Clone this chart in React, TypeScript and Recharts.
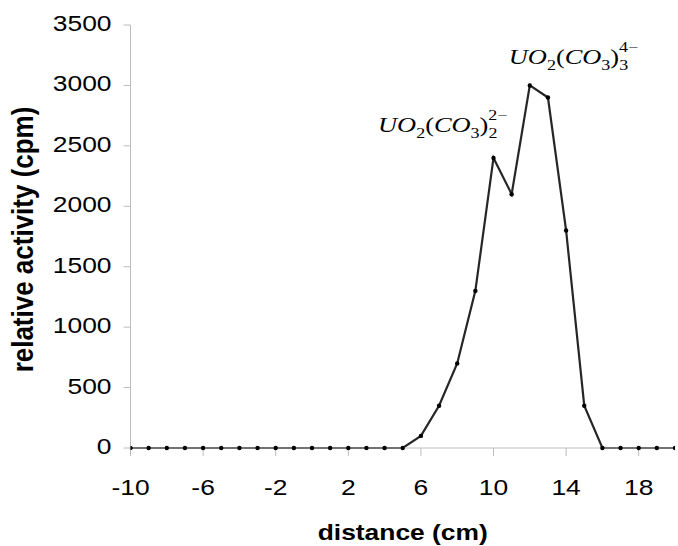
import { LineChart, Line, XAxis, YAxis, LabelList } from "recharts";

// distance along the strip (cm) and measured activity (cpm)
const distance = [
  -10, -9, -8, -7, -6, -5, -4, -3, -2, -1, 0, 1, 2, 3, 4, 5, 6, 7, 8, 9, 10,
  11, 12, 13, 14, 15, 16, 17, 18, 19, 20,
];
const activity = [
  0, 0, 0, 0, 0, 0, 0, 0, 0, 0, 0, 0, 0, 0, 0, 0, 100, 350, 700, 1300, 2400,
  2100, 3000, 2900, 1800, 350, 0, 0, 0, 0, 0,
];

const xTicks = [-10, -6, -2, 2, 6, 10, 14, 18];
const yTicks = [0, 500, 1000, 1500, 2000, 2500, 3000, 3500];

// carbonate complexes annotated over the two peaks
const complexAt = [10, 12];
const complexLigands = ["2", "3"];
const complexCharges = ["2\u2212", "4\u2212"];

const rows = distance.map((d, i) => {
  const k = complexAt.indexOf(d);
  return { x: d, y: activity[i], note: k >= 0 ? k : null };
});

const SANS = "Liberation Sans, Arial, sans-serif";
const SERIF = "Liberation Serif, Times New Roman, serif";
const AXIS = "#bdbdbd";
const STRETCH = 1.2;

function XTick(props: any) {
  const { x, y, payload } = props;
  return (
    <g transform={`translate(${x},${y + 37}) scale(${STRETCH},1)`}>
      <text textAnchor="middle" fontFamily={SANS} fontSize={22} fill="#000">
        {payload.value}
      </text>
    </g>
  );
}

function YTick(props: any) {
  const { x, y, payload } = props;
  return (
    <g transform={`translate(${x},${y + 6}) scale(${STRETCH},1)`}>
      <text textAnchor="end" fontFamily={SANS} fontSize={22} fill="#000">
        {payload.value}
      </text>
    </g>
  );
}

function Formula({ x, y, k, anchor }: any) {
  const size = 22;
  const small = 15;
  return (
    <g transform={`translate(${x},${y}) scale(${STRETCH},1)`}>
      <text textAnchor={anchor} fontFamily={SERIF} fontSize={size} fill="#000">
        <tspan fontStyle="italic">UO</tspan>
        <tspan fontSize={small} dy={6}>2</tspan>
        <tspan dy={-6}>(</tspan>
        <tspan fontStyle="italic">CO</tspan>
        <tspan fontSize={small} dy={6}>3</tspan>
        <tspan dy={-6}>)</tspan>
        <tspan fontSize={small} dy={6}>{complexLigands[k]}</tspan>
        <tspan fontSize={small} dx={-small * 0.5} dy={-18}>
          {complexCharges[k]}
        </tspan>
      </text>
    </g>
  );
}

function NoteLabel(props: any) {
  const { x, y, value } = props;
  if (value === null || value === undefined) return null;
  // first complex sits left of its peak, second just above-right
  if (value === 0) return <Formula x={x + 14} y={y - 26} k={0} anchor="end" />;
  return <Formula x={x - 21} y={y - 21} k={1} anchor="start" />;
}

export default function App() {
  return (
    <div style={{ position: "absolute", left: 0, top: 0, background: "#fff" }}>
      <LineChart
        width={678}
        height={546}
        data={rows}
        margin={{ top: 25, right: 3, bottom: 0, left: 0 }}
      >
        <XAxis
          dataKey="x"
          type="number"
          domain={[-10, 20]}
          ticks={xTicks}
          allowDataOverflow
          height={98}
          tickSize={8}
          tickMargin={2}
          stroke={AXIS}
          tick={<XTick />}
          label={{
            content: (p: any) => {
              const vb = p.viewBox;
              return (
                <g
                  transform={`translate(${vb.x + vb.width / 2},${vb.y + 92}) scale(${STRETCH},1)`}
                >
                  <text
                    textAnchor="middle"
                    fontFamily={SANS}
                    fontWeight="bold"
                    fontSize={22}
                    fill="#000"
                  >
                    distance (cm)
                  </text>
                </g>
              );
            },
          }}
        />
        <YAxis
          type="number"
          domain={[0, 3500]}
          ticks={yTicks}
          width={130.5}
          tickSize={7}
          tickMargin={12}
          stroke={AXIS}
          tick={<YTick />}
          label={{
            content: (p: any) => {
              const vb = p.viewBox;
              return (
                <g
                  transform={`translate(33,${vb.y + vb.height / 2 + 3}) scale(1.15,1) rotate(-90)`}
                >
                  <text
                    textAnchor="middle"
                    fontFamily={SANS}
                    fontWeight="bold"
                    fontSize={26}
                    fill="#000"
                  >
                    relative activity (cpm)
                  </text>
                </g>
              );
            },
          }}
        />
        <Line
          type="linear"
          dataKey="y"
          stroke="#262626"
          strokeWidth={2.2}
          dot={{ r: 2.2, fill: "#000", stroke: "none" }}
          isAnimationActive={false}
        >
          <LabelList dataKey="note" content={NoteLabel} />
        </Line>
      </LineChart>
    </div>
  );
}
